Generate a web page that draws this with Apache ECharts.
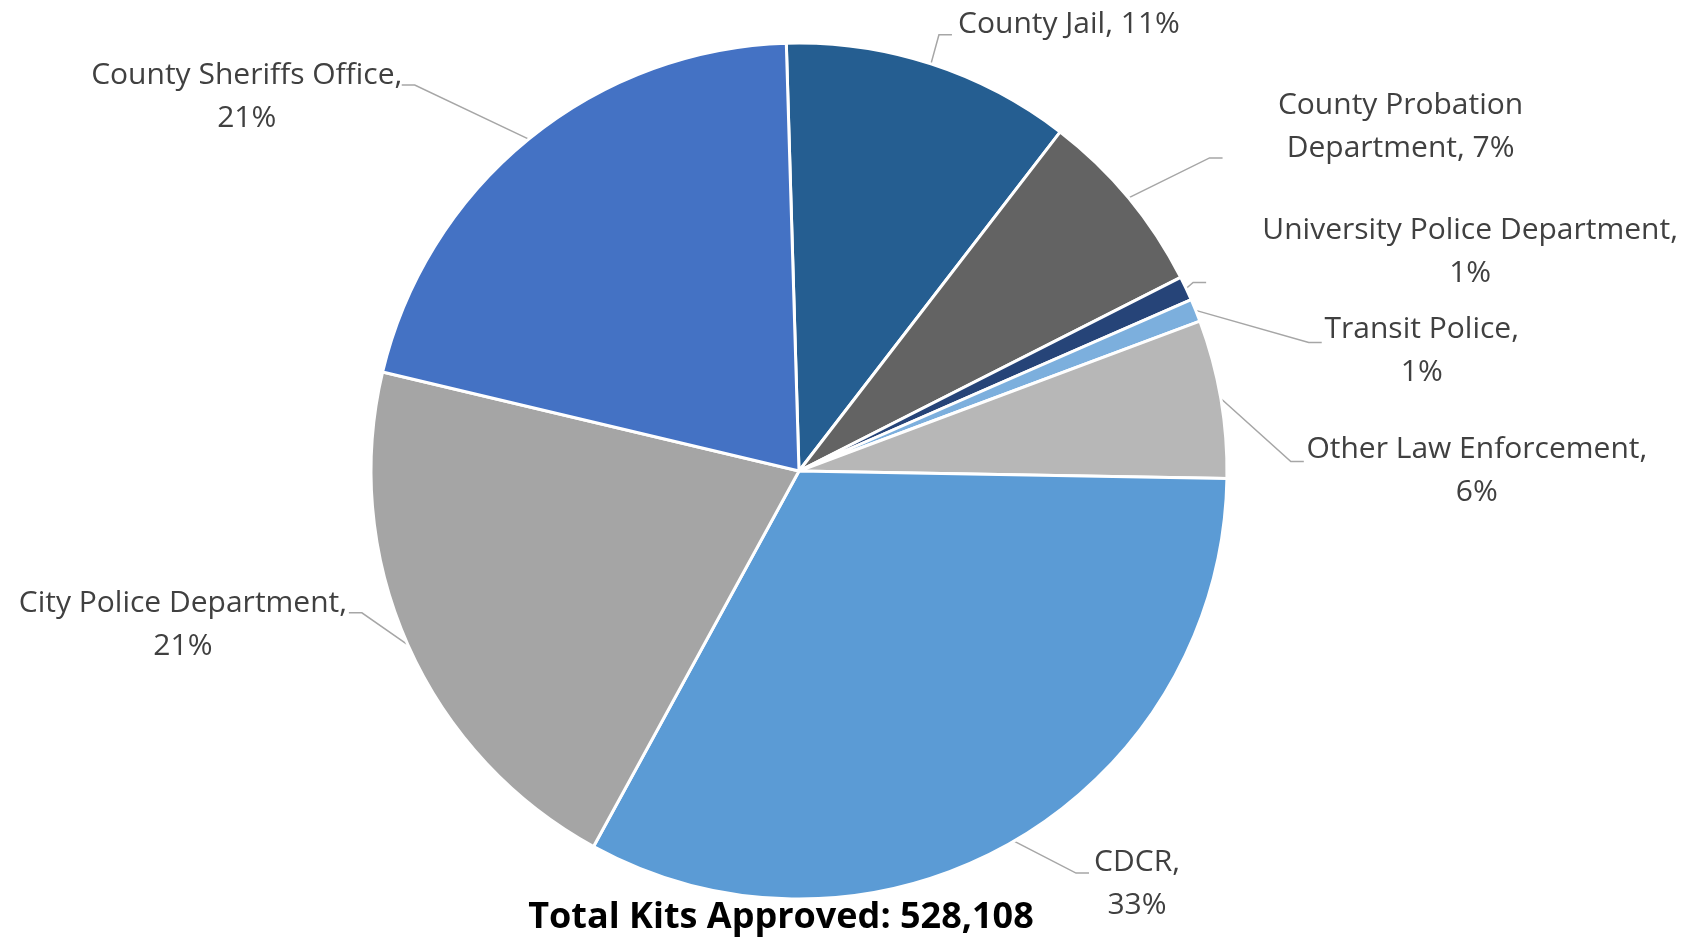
<!DOCTYPE html>
<html>
<head>
<meta charset="utf-8">
<script src="https://cdn.jsdelivr.net/npm/echarts@6/dist/echarts.min.js"></script>
<style>
html,body{margin:0;padding:0;background:#fff;}
#chart{width:1688px;height:941px;}
</style>
</head>
<body>
<div id="chart"></div>
<script>
// ---- data ----
const categories = [
  'County Jail',
  'County Probation Department',
  'University Police Department',
  'Transit Police',
  'Other Law Enforcement',
  'CDCR',
  'City Police Department',
  'County Sheriffs Office'
];
const kitsApproved = [57670, 37390, 4860, 4540, 31530, 172640, 109580, 109898];
const titlePrefix = 'Total Kits Approved: ';

// ---- styles / layout (not data) ----
const sliceColors = ['#255E91', '#636363', '#264478', '#7CAFDD', '#B7B7B7', '#5B9BD5', '#A5A5A5', '#4472C4'];
const wrapMode = ['one', 'words', 'comma', 'comma', 'comma', 'comma', 'comma', 'comma'];
// label centre offset and leader-line end offset, relative to the slice's outer mid point
const labelOffset = [[138, -39], [272, -71], [284, -37], [226, 41], [256, 72], [123, 43], [-225, -20], [-282, -42]];
const lineEndOffset = [[21, -29], [94, -40], [20, -6], [126, 32], [83, 63], [75, 32], [-59, -32], [-127, -54]];

function labelText(name, pct, mode) {
  if (mode === 'one') return name + ', ' + pct + '%';
  if (mode === 'comma') return name + ',\n' + pct + '%';
  const i = name.lastIndexOf(' ');
  return name.slice(0, i) + '\n' + name.slice(i + 1) + ', ' + pct + '%';
}

const total = kitsApproved.reduce((a, b) => a + b, 0);

const chart = echarts.init(document.getElementById('chart'), null, {renderer: 'canvas'});
chart.setOption({
  animation: false,
  backgroundColor: '#ffffff',
  graphic: [{
    type: 'text',
    x: 781,
    y: 918,
    style: {
      text: titlePrefix + total.toLocaleString('en-US'),
      align: 'center',
      verticalAlign: 'middle',
      fill: '#000000',
      font: 'bold 36px "Open Sans", sans-serif'
    }
  }],
  series: [{
    type: 'pie',
    center: [799, 471],
    radius: 428,
    startAngle: 91.7,
    clockwise: true,
    avoidLabelOverlap: false,
    data: categories.map((c, i) => ({
      name: c,
      value: kitsApproved[i],
      itemStyle: {color: sliceColors[i]}
    })),
    itemStyle: {borderColor: '#ffffff', borderWidth: 3},
    label: {
      show: true,
      position: 'outside',
      fontFamily: '"Open Sans", sans-serif',
      fontSize: 30,
      lineHeight: 43,
      color: '#404040',
      formatter: p => labelText(p.name, Math.round(p.percent), wrapMode[p.dataIndex])
    },
    labelLine: {
      show: true,
      length: 20,
      length2: 10,
      lineStyle: {color: '#A6A6A6', width: 1.5}
    },
    labelLayout: function (params) {
      const i = params.dataIndex;
      const e = params.labelLinePoints[0];
      const side = lineEndOffset[i][0] >= 0 ? 1 : -1;
      const end = [e[0] + lineEndOffset[i][0], e[1] + lineEndOffset[i][1]];
      const bend = [end[0] - side * 13, end[1]];
      return {
        x: e[0] + labelOffset[i][0],
        y: e[1] + labelOffset[i][1],
        align: 'center',
        verticalAlign: 'middle',
        labelLinePoints: [e, bend, end]
      };
    },
    emphasis: {disabled: true}
  }]
});
</script>
</body>
</html>
